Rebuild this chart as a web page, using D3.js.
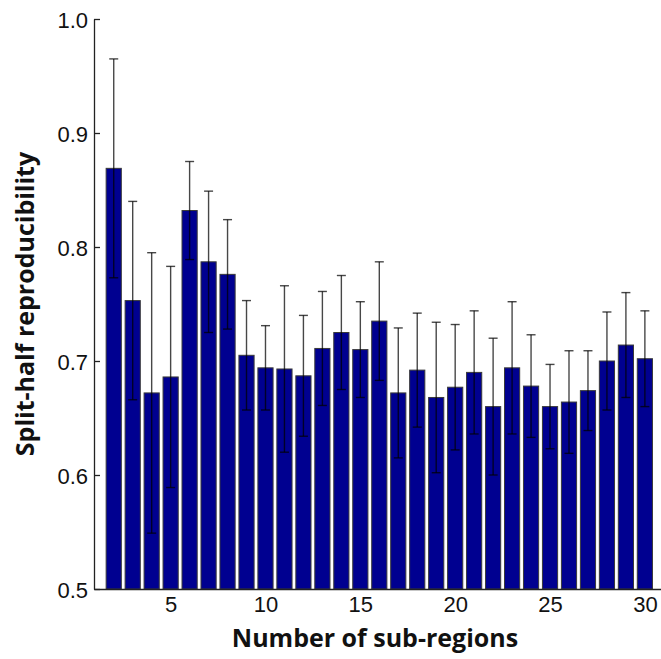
<!DOCTYPE html>
<html>
<head>
<meta charset="utf-8">
<script src="https://cdn.jsdelivr.net/npm/d3@7"></script>
<style>
  body { margin: 0; background: #fff; }
  svg { display: block; font-family: "Open Sans", "Noto Sans", sans-serif; }
</style>
</head>
<body>
<div id="chart"></div>
<script>
// number of sub-regions, mean split-half reproducibility, error (+/-)
const regions = [2,3,4,5,6,7,8,9,10,11,12,13,14,15,16,17,18,19,20,21,22,23,24,25,26,27,28,29,30]
const means = [0.869,0.753,0.672,0.686,0.832,0.787,0.776,0.705,0.694,0.693,0.687,0.711,0.725,0.710,0.735,
  0.672,0.692,0.668,0.677,0.690,0.660,0.694,0.678,0.660,0.664,0.674,0.700,0.714,0.702]
const errors = [0.096,0.087,0.123,0.097,0.043,0.062,0.048,0.048,0.037,0.073,0.053,0.050,0.050,0.042,0.052,
  0.057,0.050,0.066,0.055,0.054,0.060,0.058,0.045,0.037,0.045,0.035,0.043,0.046,0.042]
const xTicks = [5, 10, 15, 20, 25, 30]
const yTicks = [0.5, 0.6, 0.7, 0.8, 0.9, 1.0]

const W = 661, H = 659
const MARGIN = { TOP: 19, BOTTOM: 70, LEFT: 94, RIGHT: 0 }
const WIDTH = W - MARGIN.LEFT - MARGIN.RIGHT
const HEIGHT = H - MARGIN.TOP - MARGIN.BOTTOM

const data = regions.map((r, i) => ({ n: r, v: means[i], e: errors[i] }))

const svg = d3.select('#chart').append('svg')
  .attr('width', W)
  .attr('height', H)

const g = svg.append('g')
  .attr('transform', `translate(${MARGIN.LEFT}, ${MARGIN.TOP})`)

const x = d3.scaleLinear().domain([0.96, 30.85]).range([0, WIDTH])
const y = d3.scaleLinear().domain([0.5, 1.0]).range([HEIGHT, 0])
const barW = (x(2) - x(1)) * 0.8

//bars
g.selectAll('rect.bar').data(data).join('rect')
  .attr('class', 'bar')
  .attr('x', d => x(d.n) - barW / 2)
  .attr('width', barW)
  .attr('y', d => y(d.v))
  .attr('height', d => y(0.5) - y(d.v))
  .attr('fill', '#000090')
  .attr('stroke', '#3a3a3a')
  .attr('stroke-width', 1)

//error bars
const eb = g.selectAll('g.err').data(data).join('g').attr('class', 'err')
  .attr('stroke', '#000')
  .attr('stroke-opacity', 0.72)
  .attr('stroke-width', 1.4)
eb.append('line')
  .attr('x1', d => x(d.n)).attr('x2', d => x(d.n))
  .attr('y1', d => y(d.v - d.e)).attr('y2', d => y(d.v + d.e))
eb.append('line')
  .attr('x1', d => x(d.n) - 4.5).attr('x2', d => x(d.n) + 4.5)
  .attr('y1', d => y(d.v + d.e)).attr('y2', d => y(d.v + d.e))
eb.append('line')
  .attr('x1', d => x(d.n) - 4.5).attr('x2', d => x(d.n) + 4.5)
  .attr('y1', d => y(d.v - d.e)).attr('y2', d => y(d.v - d.e))

//axes
const yAxis = d3.axisLeft(y).tickValues(yTicks).tickFormat(d3.format('.1f'))
  .tickSizeInner(-6).tickSizeOuter(0).tickPadding(6)
const yg = g.append('g').call(yAxis)
yg.select('.domain').attr('stroke', '#222').attr('stroke-width', 1.3)
yg.selectAll('.tick line').attr('stroke', '#222').attr('stroke-width', 1.3)
yg.selectAll('text').attr('font-size', 22).attr('fill', '#111').attr('dy', '0.4em')

const xAxis = d3.axisBottom(x).tickValues(xTicks).tickSize(0).tickSizeOuter(0).tickPadding(7)
const xg = g.append('g').attr('transform', `translate(0, ${HEIGHT})`).call(xAxis)
xg.select('.domain').attr('stroke', '#222').attr('stroke-width', 1.3)
xg.selectAll('text').attr('font-size', 22).attr('fill', '#111')

//axis titles
svg.append('text')
  .attr('x', 375)
  .attr('y', 647)
  .attr('text-anchor', 'middle')
  .attr('font-size', 25)
  .attr('font-weight', 'bold')
  .attr('fill', '#111')
  .text('Number of sub-regions')

svg.append('text')
  .attr('transform', `translate(34, ${304}) rotate(-90)`)
  .attr('text-anchor', 'middle')
  .attr('font-size', 25)
  .attr('font-weight', 'bold')
  .attr('fill', '#111')
  .text('Split-half reproducibility')
</script>
</body>
</html>
